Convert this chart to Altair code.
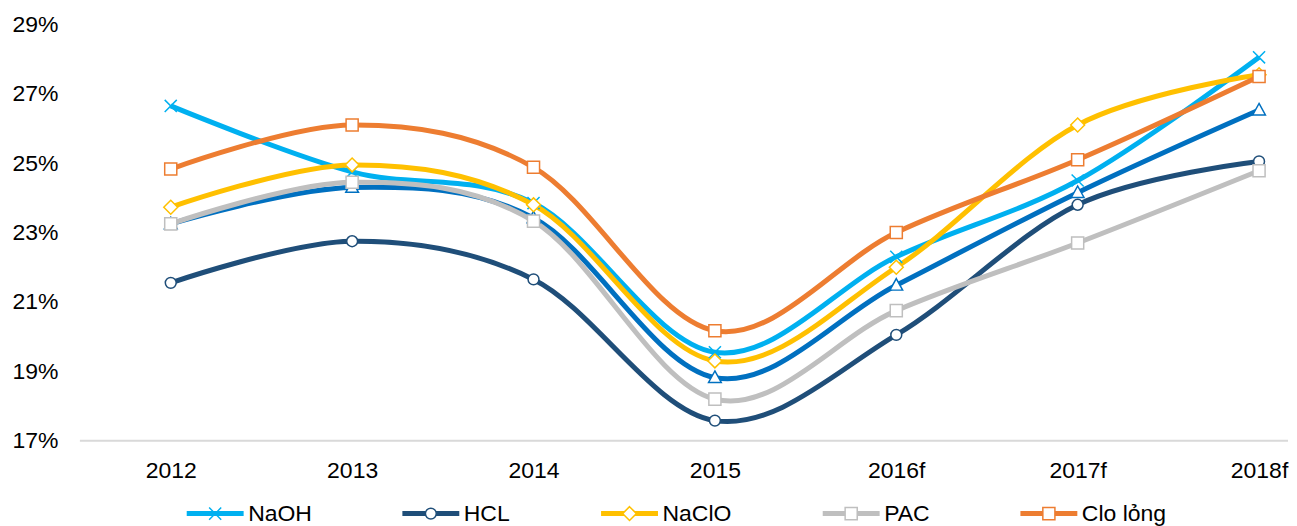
import altair as alt
import pandas as pd

# ---- data (percent) ----
years = ["2012", "2013", "2014", "2015", "2016f", "2017f", "2018f"]
naoh = [26.65, 24.75, 23.85, 19.55, 22.30, 24.50, 28.05]
hcl = [21.55, 22.75, 21.65, 17.58, 20.05, 23.80, 25.05]
naclo = [23.73, 24.95, 23.80, 19.30, 22.00, 26.10, 27.55]
pac = [23.25, 24.45, 23.33, 18.20, 20.75, 22.70, 24.78]
clo_long = [24.83, 26.10, 24.88, 20.17, 23.00, 25.10, 27.50]
khac = [23.25, 24.30, 23.42, 18.82, 21.48, 24.15, 26.53]  # 6th series (legend entry cut off)

legend_names = ["NaOH", "HCL", "NaClO", "PAC", "Clo lỏng"]
extra_name = "Khác"
all_names = legend_names + [extra_name]
colors = ["#00B0F0", "#1F4E79", "#FFC000", "#BFBFBF", "#ED7D31", "#0070C0"]
marker_paths = [
    "M-0.2,-0.2L0.2,0.2M-0.2,0.2L0.2,-0.2",
    "M0.18,0A0.18,0.18 0 1,1 -0.18,0A0.18,0.18 0 1,1 0.18,0Z",
    "M0,-0.23L0.23,0L0,0.23L-0.23,0Z",
    "M-0.2,-0.2H0.2V0.2H-0.2Z",
    "M-0.2,-0.2H0.2V0.2H-0.2Z",
    "M0,-0.22L0.21,0.16L-0.21,0.16Z",
]
y_ticks = [17, 19, 21, 23, 25, 27, 29]
baseline = [17]

draw_order = [("NaOH", naoh), ("Khác", khac), ("HCL", hcl), ("NaClO", naclo),
              ("PAC", pac), ("Clo lỏng", clo_long)]
rows = []
for name, vals in draw_order:
    for yr, v in zip(years, vals):
        rows.append({"year": yr, "value": v, "series": name, "marker": name})
df = pd.DataFrame(rows)

# line colour scale uses a different domain order so its legend is kept apart
line_domain = [extra_name] + legend_names
line_range = [colors[-1]] + colors[:-1]

FONT = "Liberation Sans"
FS = 23

x_enc = alt.X(
    "year:N", sort=years,
    scale=alt.Scale(type="point", range=[91, 1181], padding=0),
    axis=alt.Axis(title=None, domain=False, ticks=False, grid=False, labelAngle=0,
                  labelFontSize=FS, labelFont=FONT, labelColor="black", labelPadding=19),
)
y_enc = alt.Y(
    "value:Q",
    scale=alt.Scale(domain=[17, 29], nice=False, zero=False),
    axis=alt.Axis(title=None, values=y_ticks, labelExpr="datum.value + '%'", domain=False,
                  ticks=False, grid=False, labelFontSize=FS, labelFont=FONT,
                  labelColor="black", labelPadding=22),
)

common_leg = dict(title=None, orient="none", legendX=104.5, legendY=477,
                  direction="horizontal", columns=5, values=legend_names,
                  labelFontSize=FS, labelFont=FONT, labelColor="black", labelOffset=2,
                  columnPadding=88, clipHeight=26, padding=0)

legend_lines = alt.Legend(symbolType="stroke", symbolStrokeWidth=5, symbolSize=3249, **common_leg)
legend_marks = alt.Legend(symbolStrokeWidth=1.5, symbolSize=3660, symbolFillColor="white",
                          labelOpacity=0, **common_leg)

rule = alt.Chart(pd.DataFrame({"v": baseline})).mark_rule(
    color="#D9D9D9", strokeWidth=2).encode(y=alt.Y("v:Q"))

lines = alt.Chart(df).mark_line(interpolate="cardinal", strokeWidth=5).encode(
    x=x_enc, y=y_enc,
    color=alt.Color("series:N", scale=alt.Scale(domain=line_domain, range=line_range),
                    legend=legend_lines),
)

points = alt.Chart(df).mark_point(fill="white", strokeWidth=1.5, size=3660, opacity=1).encode(
    x=x_enc, y=y_enc,
    stroke=alt.Stroke("marker:N", scale=alt.Scale(domain=all_names, range=colors),
                      legend=legend_marks),
    shape=alt.Shape("marker:N", scale=alt.Scale(domain=all_names, range=marker_paths),
                    legend=legend_marks),
)

chart = alt.layer(rule, lines, points).properties(
    width=1210, height=417,
    padding={"left": 3, "top": 5, "right": 0, "bottom": 0},
).configure(font=FONT).configure_view(stroke=None)

chart.save("out.html", embed_options={"renderer": "svg", "actions": False})
